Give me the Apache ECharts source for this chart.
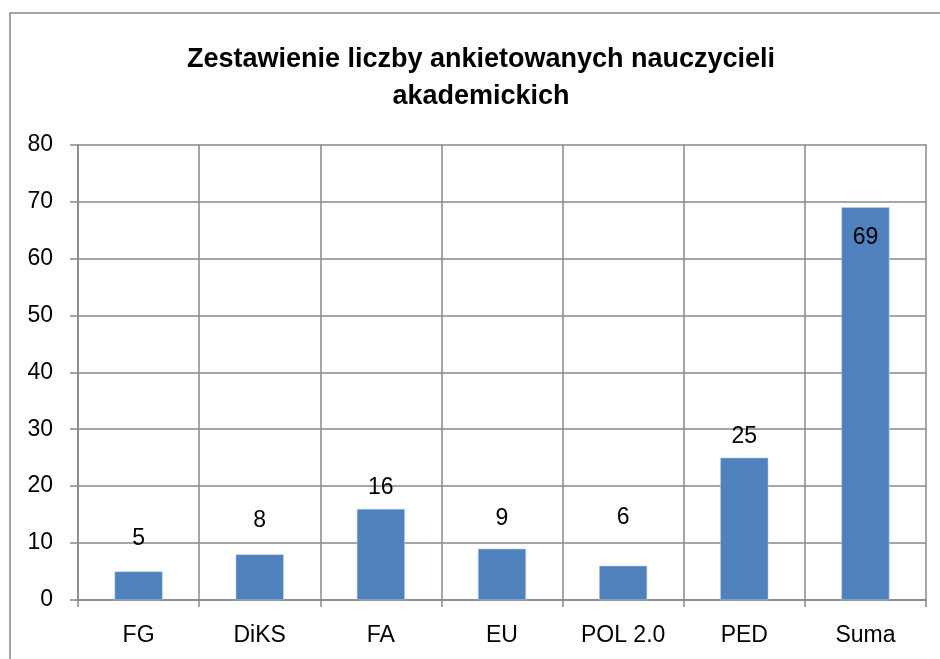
<!DOCTYPE html>
<html>
<head>
<meta charset="utf-8">
<script src="https://cdn.jsdelivr.net/npm/echarts@6/dist/echarts.min.js"></script>
<style>
html,body{margin:0;padding:0;background:#fff;}
#c{width:940px;height:659px;}
</style>
</head>
<body>
<div id="c"></div>
<script>
const titleText = 'Zestawienie liczby ankietowanych nauczycieli\nakademickich';
const categories = ['FG', 'DiKS', 'FA', 'EU', 'POL 2.0', 'PED', 'Suma'];
const values = [5, 8, 16, 9, 6, 25, 69];
const labelDistances = [21, 22, 10, 19, 37, 10, 19];
const labelPositions = ['top', 'top', 'top', 'top', 'top', 'top', 'insideTop'];
const yTicks = { min: 0, max: 80, interval: 10 };

const FONT = 'Liberation Sans';
const chart = echarts.init(document.getElementById('c'));
chart.setOption({
  backgroundColor: '#fff',
  animation: false,
  graphic: [{
    type: 'rect',
    shape: { x: 10, y: 13, width: 1000, height: 700 },
    style: { fill: 'none', stroke: '#888', lineWidth: 1.5 },
    silent: true
  }],
  title: {
    text: titleText,
    left: 481,
    textAlign: 'center',
    top: 41.5,
    padding: 0,
    textStyle: { fontFamily: FONT, fontWeight: 'bold', fontSize: 27, color: '#000', lineHeight: 37 }
  },
  grid: { left: 78, right: 14, top: 144.5, bottom: 59, containLabel: false },
  xAxis: {
    type: 'category',
    data: categories,
    boundaryGap: true,
    axisLine: { lineStyle: { color: '#888', width: 1.5 } },
    axisTick: { show: true, length: 7, alignWithLabel: false, lineStyle: { color: '#888', width: 1.5 } },
    splitLine: { show: true, lineStyle: { color: '#888', width: 1.5 } },
    axisLabel: { fontFamily: FONT, fontSize: 23, color: '#000', margin: 24 }
  },
  yAxis: {
    type: 'value',
    min: yTicks.min, max: yTicks.max, interval: yTicks.interval,
    axisLine: { show: true, lineStyle: { color: '#888', width: 1.5 } },
    axisTick: { show: true, length: 8, lineStyle: { color: '#888', width: 1.5 } },
    splitLine: { show: true, lineStyle: { color: '#888', width: 1.5 } },
    axisLabel: { fontFamily: FONT, fontSize: 23, color: '#000', margin: 25 }
  },
  series: [{
    type: 'bar',
    barWidth: 48,
    itemStyle: { color: '#4F81BD', borderColor: '#BFD0E6', borderWidth: 0.5 },
    data: values.map((v, i) => ({
      value: v,
      label: { position: labelPositions[i], distance: labelDistances[i] }
    })),
    label: { show: true, fontFamily: FONT, fontSize: 23, color: '#000' }
  }]
});
</script>
</body>
</html>
